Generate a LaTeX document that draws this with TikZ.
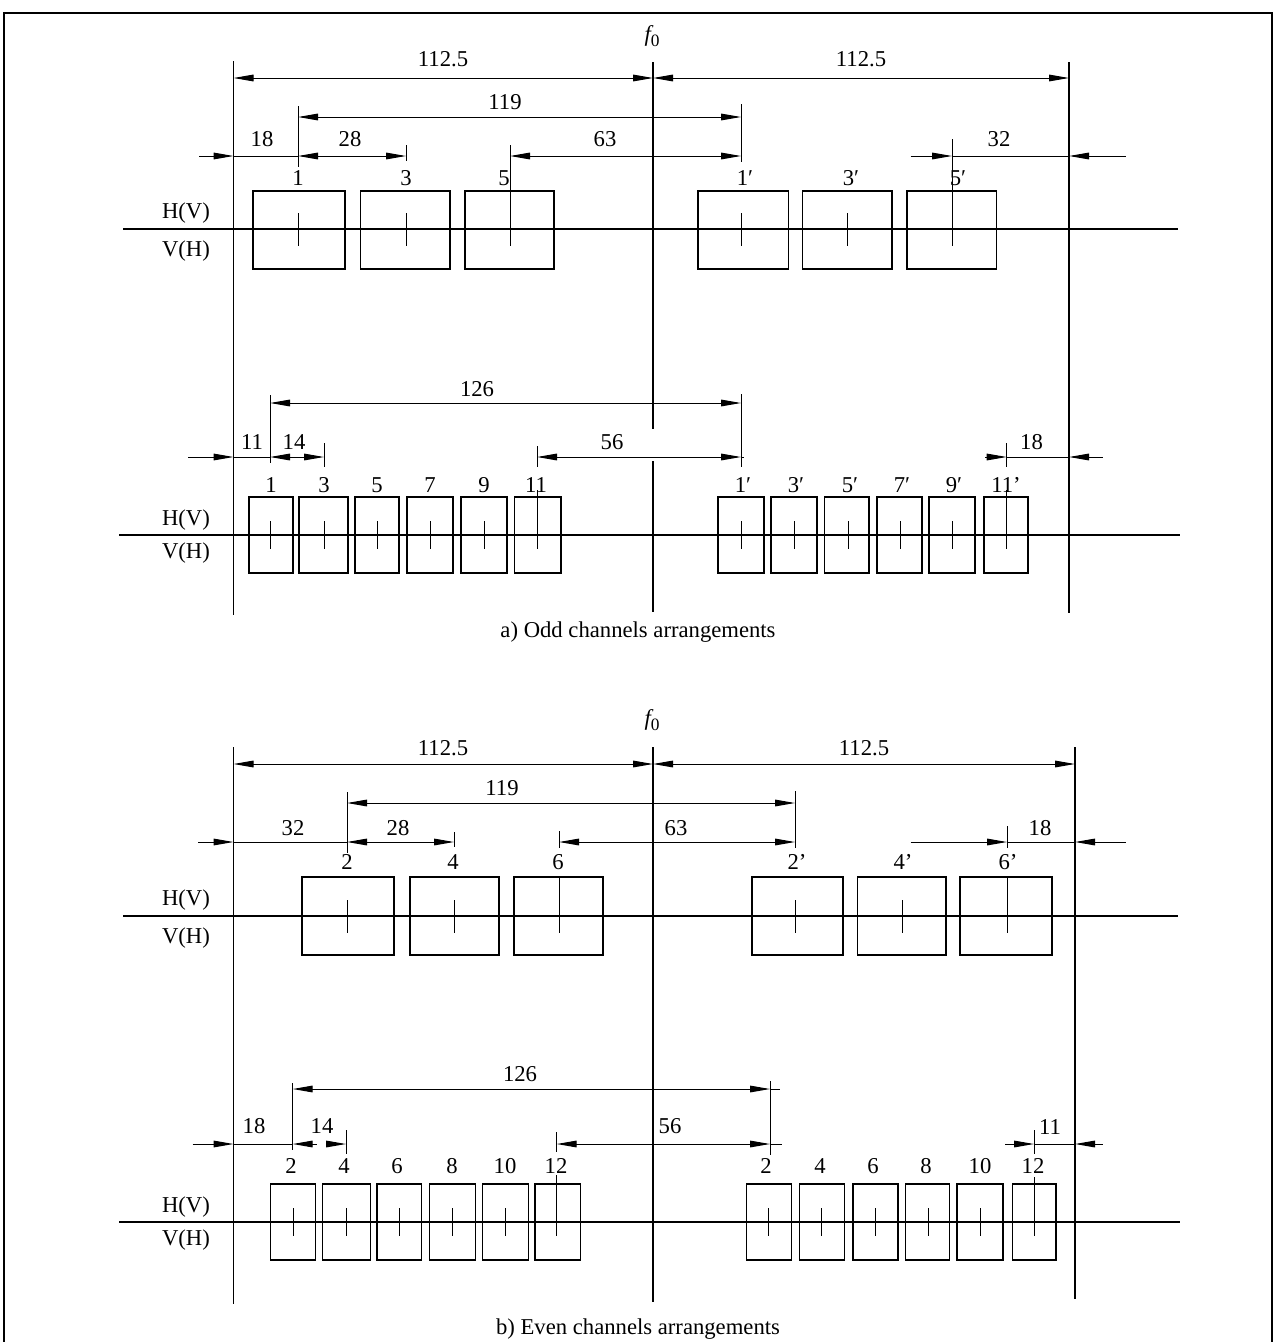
\documentclass[tikz,border=0pt]{standalone}
\usepackage{fontspec}
\setmainfont{Liberation Serif}
\usetikzlibrary{arrows.meta}
\newcommand{\lbfont}{\fontsize{17}{20}\selectfont}
\newcommand{\fzero}{{\itshape f}\raisebox{-0.5ex}{\fontsize{13}{14}\selectfont 0}}
\newcommand{\pr}{{\char"2032}}
\begin{document}
\begin{tikzpicture}[x=0.75pt,y=-0.75pt,
  dl/.style={line width=0.75pt},
  both/.style={dl,{Triangle[length=15pt,width=5pt]}-{Triangle[length=15pt,width=5pt]}},
  oneend/.style={dl,-{Triangle[length=15pt,width=5pt]}},
  ext/.style={line width=0.7pt},
  vline/.style={line width=1pt},
  axisline/.style={line width=0.9pt},
  chbox/.style={line width=1.1pt},
  tickl/.style={line width=0.7pt},
  lbl/.style={font=\lbfont, inner sep=0pt}]
\useasboundingbox (0,0) rectangle (1276,1342);
% frame
\draw[line width=1.5pt] (4,1342) -- (4,13) -- (1272,13) -- (1272,1342);

% ================= section a =================
\draw[vline] (233.5,61) -- (233.5,615);
\draw[vline] (653,62) -- (653,429);
\draw[vline] (653,461) -- (653,612);
\draw[vline] (1069,62) -- (1069,613);
\node[lbl] (f0a) at (652,36) {\fzero};
\draw[axisline] (123,229) -- (1178,229);
\draw[axisline] (119,535) -- (1180,535);
\node[lbl] (hva1) at (186,213) {H(V)};
\node[lbl] (vha1) at (186,251) {V(H)};
\node[lbl] (hva2) at (186,520) {H(V)};
\node[lbl] (vha2) at (186,553) {V(H)};

% top row dimensions
\draw[both] (233.5,78) -- (653,78);
\draw[both] (653,78) -- (1069,78);
\node[lbl] (da1) at (443,59) {112.5};
\node[lbl] (da2) at (861,59) {112.5};
\draw[ext] (298,106) -- (298,167);
\draw[ext] (741,104) -- (741,162);
\draw[both] (298,117) -- (741,117);
\node[lbl] (da3) at (505,102) {119};
\draw[oneend] (199,156) -- (233.5,156);
\draw[dl] (233.5,156) -- (298,156);
\draw[both] (298,156) -- (406,156);
\draw[ext] (406,145) -- (406,161);
\draw[ext] (510,145) -- (510,246);
\draw[both] (510,156) -- (741,156);
\draw[oneend] (910.6,156) -- (952,156);
\draw[dl] (952,156) -- (1069,156);
\draw[oneend] (1125.6,156) -- (1069,156);
\draw[ext] (952,139) -- (952,246);
\node[lbl] (da4) at (262,139) {18};
\node[lbl] (da5) at (350,139) {28};
\node[lbl] (da6) at (605,139) {63};
\node[lbl] (da7) at (999,139) {32};
% top row boxes
\foreach \l/\r in {253/345, 360.6/449.8, 465/554, 698/788.5, 802.7/892, 907/996.6}
  \draw[chbox] (\l,191) rectangle (\r,269);
\foreach \x in {298,406,510,741,847,952}
  \draw[tickl] (\x,213) -- (\x,246);
\foreach \x/\t/\n in {298/1/ca1, 406/3/ca3, 504/5/ca5, 745/1\pr/ca1p, 851/3\pr/ca3p, 958/5\pr/ca5p}
  \node[lbl] (\n) at (\x,178) {\t};

% bottom row dimensions
\draw[ext] (270,395) -- (270,463);
\draw[ext] (741,394) -- (741,467);
\draw[both] (270,403) -- (741,403);
\node[lbl] (db1) at (477,389) {126};
\draw[oneend] (188,457) -- (233.5,457);
\draw[dl] (233.5,457) -- (270,457);
\draw[both] (270,457) -- (324,457);
\draw[ext] (324,443) -- (324,467);
\draw[ext] (537,446) -- (537,467);
\draw[ext] (537,490) -- (537,549);
\draw[both] (537,457) -- (741,457);
\draw[dl] (741,457) -- (744,457);
\draw[oneend] (985,457) -- (1006.7,457);
\draw[dl] (1006.7,457) -- (1069,457);
\draw[oneend] (1102.5,457) -- (1069,457);
\draw[ext] (1006.7,443) -- (1006.7,467);
\draw[ext] (1006.7,490) -- (1006.7,549);
\node[lbl] (db2) at (252,442) {11};
\node[lbl] (db3) at (294,442) {14};
\node[lbl] (db4) at (612,442) {56};
\node[lbl] (db5) at (1031.5,442) {18};
% bottom row boxes
\foreach \l/\r in {249/293, 299/348, 355/399, 407/453, 461/507, 514.5/561, 718/764, 771/817, 824.6/869, 877/922, 929/975, 984/1028}
  \draw[chbox] (\l,497) rectangle (\r,573);
\foreach \x in {270,324,377,430,484,537,741,794,848,900,952,1006.7}
  \draw[tickl] (\x,521) -- (\x,549);
\foreach \x/\t/\n in {271/1/cb1, 324/3/cb3, 377/5/cb5, 430/7/cb7, 484/9/cb9, 536/11/cb11,
                      743/1\pr/cb1p, 796/3\pr/cb3p, 850/5\pr/cb5p, 902/7\pr/cb7p, 954/9\pr/cb9p, 1006/11’/cb11p}
  \node[lbl] (\n) at (\x,485) {\t};
\node[lbl] (capa) at (638,632) {a) Odd channels arrangements};

% ================= section b =================
\draw[vline] (233.5,747) -- (233.5,1304);
\draw[vline] (653,747) -- (653,1302);
\draw[vline] (1075,747) -- (1075,1299);
\node[lbl] (f0b) at (652,720) {\fzero};
\draw[axisline] (123,916) -- (1178,916);
\draw[axisline] (119,1222) -- (1180,1222);
\node[lbl] (hvb1) at (186,900) {H(V)};
\node[lbl] (vhb1) at (186,938) {V(H)};
\node[lbl] (hvb2) at (186,1207) {H(V)};
\node[lbl] (vhb2) at (186,1240) {V(H)};

% top row dimensions
\draw[both] (233.5,764) -- (653,764);
\draw[both] (653,764) -- (1075,764);
\node[lbl] (dc1) at (443,748) {112.5};
\node[lbl] (dc2) at (864,748) {112.5};
\draw[ext] (347,792) -- (347,853);
\draw[ext] (795,791) -- (795,848);
\draw[both] (347,803) -- (795,803);
\node[lbl] (dc3) at (502,788) {119};
\draw[oneend] (198,842) -- (233.5,842);
\draw[dl] (233.5,842) -- (347,842);
\draw[both] (347,842) -- (454,842);
\draw[ext] (454,832) -- (454,847);
\draw[ext] (559,831) -- (559,848);
\draw[ext] (559,877) -- (559,933);
\draw[both] (559,842) -- (795,842);
\draw[oneend] (910.6,842) -- (1007,842);
\draw[dl] (1007,842) -- (1075,842);
\draw[oneend] (1125.6,842) -- (1075,842);
\draw[ext] (1007,826) -- (1007,848);
\draw[ext] (1007,877) -- (1007,933);
\node[lbl] (dc4) at (293,828) {32};
\node[lbl] (dc5) at (398,828) {28};
\node[lbl] (dc6) at (676,828) {63};
\node[lbl] (dc7) at (1040,828) {18};
\foreach \l/\r in {302/394, 410/499, 514/603, 752/843, 857.5/946, 960/1052}
  \draw[chbox] (\l,877) rectangle (\r,955);
\foreach \x in {347,454,559,795,902,1007}
  \draw[tickl] (\x,900) -- (\x,933);
\foreach \x/\t/\n in {347/2/cc2, 453/4/cc4, 558/6/cc6, 797/2’/cc2p, 903/4’/cc4p, 1008/6’/cc6p}
  \node[lbl] (\n) at (\x,862) {\t};

% bottom row dimensions
\draw[ext] (292.7,1083) -- (292.7,1150);
\draw[ext] (770,1081) -- (770,1155);
\draw[both] (292.7,1089) -- (770,1089);
\draw[dl] (770,1089) -- (780,1089);
\node[lbl] (dd1) at (520,1074) {126};
\draw[oneend] (192.7,1144) -- (233.5,1144);
\draw[dl] (233.5,1144) -- (292.7,1144);
\draw[oneend] (316.7,1144) -- (292.7,1144);
\draw[oneend] (326.7,1144) -- (346,1144);
\draw[ext] (346,1130) -- (346,1154);
\draw[ext] (556.7,1132) -- (556.7,1152);
\draw[ext] (556.7,1175) -- (556.7,1235);
\draw[both] (556.7,1144) -- (770,1144);
\draw[dl] (770,1144) -- (782,1144);
\draw[oneend] (1005,1144) -- (1034,1144);
\draw[dl] (1034,1144) -- (1075,1144);
\draw[oneend] (1102.5,1144) -- (1075,1144);
\draw[ext] (1034,1130) -- (1034,1154);
\draw[ext] (1034,1177) -- (1034,1236);
\node[lbl] (dd2) at (254,1126) {18};
\node[lbl] (dd3) at (322,1126) {14};
\node[lbl] (dd4) at (670,1126) {56};
\node[lbl] (dd5) at (1050,1127) {11};
\foreach \l/\r in {270.7/315.3, 322.7/370.3, 377/421.7, 429.3/475.3, 482.3/528.7, 535/580.7,
                   746.7/791.3, 799.4/844.5, 853/898, 905.3/949.5, 956.8/1003, 1012.4/1055.8}
  \draw[chbox] (\l,1184) rectangle (\r,1260);
\foreach \x in {293.7,346.3,399,452,505.7,556.7,768.6,821.3,875.3,928,980.8,1034}
  \draw[tickl] (\x,1208) -- (\x,1236);
\foreach \x/\t/\n in {291/2/cd2, 344/4/cd4, 397/6/cd6, 452/8/cd8, 505/10/cd10, 556/12/cd12,
                      766/2/cd2r, 820/4/cd4r, 873/6/cd6r, 926/8/cd8r, 980/10/cd10r, 1033/12/cd12r}
  \node[lbl] (\n) at (\x,1166) {\t};
\node[lbl] (capb) at (638,1329) {b) Even channels arrangements};
\end{tikzpicture}
\end{document}
